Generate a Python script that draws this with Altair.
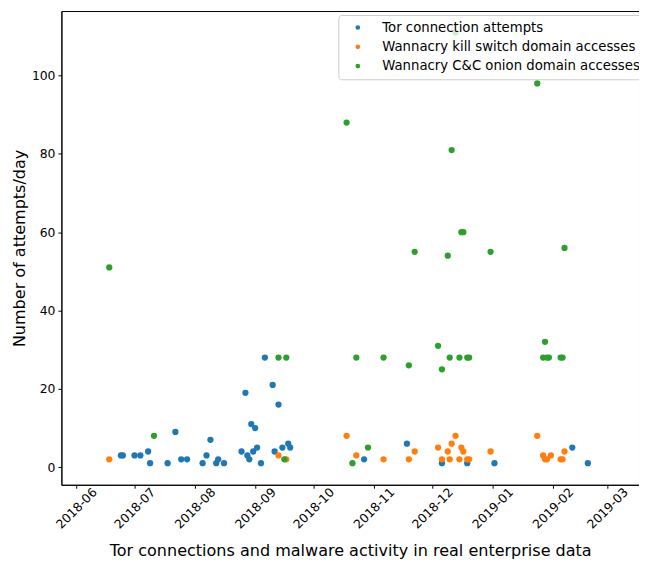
import altair as alt
import pandas as pd

series_names = ["Tor connection attempts",
                "Wannacry kill switch domain accesses",
                "Wannacry C&C onion domain accesses"]
series_colors = ["#1f77b4", "#ff7f0e", "#2ca02c"]

tor_dates = ["2018-06-24", "2018-06-25", "2018-07-01", "2018-07-04", "2018-07-08", "2018-07-09",
             "2018-07-18", "2018-07-22", "2018-07-25", "2018-07-28", "2018-08-05", "2018-08-07",
             "2018-08-09", "2018-08-12", "2018-08-13", "2018-08-16", "2018-08-25", "2018-08-27",
             "2018-08-28", "2018-08-29", "2018-08-30", "2018-08-31", "2018-09-01", "2018-09-02",
             "2018-09-04", "2018-09-06", "2018-09-10", "2018-09-11", "2018-09-13", "2018-09-15",
             "2018-09-18", "2018-09-19", "2018-10-27", "2018-11-18", "2018-12-06", "2018-12-19",
             "2019-01-02", "2019-02-11", "2019-02-19"]
tor_vals = [3, 3, 3, 3, 4, 1, 1, 9, 2, 2, 1, 3, 7, 1, 2, 1, 4, 19, 3, 2,
            11, 4, 10, 5, 1, 28, 21, 4, 16, 5, 6, 5, 2, 6, 1, 1, 1, 5, 1]

kill_dates = ["2018-06-18", "2018-09-13", "2018-09-17", "2018-10-18", "2018-10-23", "2018-11-06",
              "2018-11-19", "2018-11-22", "2018-12-04", "2018-12-06", "2018-12-09", "2018-12-10",
              "2018-12-11", "2018-12-13", "2018-12-15", "2018-12-16", "2018-12-17", "2018-12-19",
              "2018-12-20", "2018-12-31", "2019-01-24", "2019-01-27", "2019-01-28", "2019-01-29",
              "2019-01-31", "2019-02-05", "2019-02-06", "2019-02-07"]
kill_vals = [2, 3, 2, 8, 3, 2, 2, 4, 5, 2, 4, 2, 6, 8, 2, 5, 4, 2, 2, 4,
             8, 3, 2, 2, 3, 2, 2, 4]

cc_dates = ["2018-06-18", "2018-07-11", "2018-09-13", "2018-09-16", "2018-09-17", "2018-10-18",
            "2018-10-21", "2018-10-23", "2018-10-29", "2018-11-06", "2018-11-19", "2018-11-22",
            "2018-12-04", "2018-12-06", "2018-12-09", "2018-12-10", "2018-12-11", "2018-12-13",
            "2018-12-15", "2018-12-16", "2018-12-17", "2018-12-19", "2018-12-20", "2018-12-31",
            "2019-01-24", "2019-01-27", "2019-01-28", "2019-01-29", "2019-01-30", "2019-02-05",
            "2019-02-06", "2019-02-07"]
cc_vals = [51, 8, 28, 2, 28, 88, 1, 28, 5, 28, 26, 55, 31, 25, 54, 28, 81, 111, 28, 60,
           60, 28, 28, 55, 98, 28, 32, 28, 28, 28, 28, 56]

month_ticks = [(2018, 6), (2018, 7), (2018, 8), (2018, 9), (2018, 10), (2018, 11),
               (2018, 12), (2019, 1), (2019, 2), (2019, 3)]
y_ticks = [0, 20, 40, 60, 80, 100]

rows = []
for name, dates, vals in zip(series_names, [tor_dates, kill_dates, cc_dates],
                             [tor_vals, kill_vals, cc_vals]):
    for d, v in zip(dates, vals):
        rows.append({"date": d, "count": v, "series": name})
df = pd.DataFrame(rows)

FONT = "DejaVu Sans"

x_domain = [alt.DateTime(year=2018, month=5, date=24, hours=10, utc=True),
            alt.DateTime(year=2019, month=3, date=17, hours=7, utc=True)]
x_values = [alt.DateTime(year=y, month=m, date=1, utc=True) for y, m in month_ticks]

chart = alt.Chart(df).mark_circle(size=40, opacity=1).encode(
    x=alt.X("date:T",
            scale=alt.Scale(type="utc", domain=x_domain, nice=False),
            axis=alt.Axis(values=x_values, format="%Y-%m", labelAngle=-45,
                          labelAlign="center", labelBaseline="middle",
                          labelPadding=20, titlePadding=12, grid=False),
            title="Tor connections and malware activity in real enterprise data"),
    y=alt.Y("count:Q",
            scale=alt.Scale(domain=[-4.5, 116.5], nice=False, zero=False),
            axis=alt.Axis(values=y_ticks, grid=False, titlePadding=4, labelPadding=3),
            title="Number of attempts/day"),
    color=alt.Color("series:N",
                    scale=alt.Scale(domain=series_names, range=series_colors),
                    title=None,
                    legend=alt.Legend(orient="none", legendX=280, legendY=4,
                                      symbolType="circle", symbolSize=22,
                                      symbolStrokeWidth=0,
                                      labelFontSize=13.4, labelFont=FONT, labelColor="black",
                                      rowPadding=4.5, padding=6, symbolOffset=7,
                                      labelOffset=18,
                                      fillColor="rgba(255,255,255,0.8)",
                                      strokeColor="#cccccc", cornerRadius=3,
                                      labelLimit=400)),
).properties(
    width=584,
    height=479,
    autosize=alt.AutoSizeParams(type="none"),
    padding={"left": 54, "top": 0, "right": 0, "bottom": 74},
).configure_view(
    stroke="black", strokeWidth=1
).configure_axis(
    domainColor="black", tickColor="black", tickSize=3.5, labelColor="black",
    labelFont=FONT, labelFontSize=12.5, titleFont=FONT, titleFontSize=16.2,
    titleFontWeight="normal", titleColor="black", domainWidth=1, tickWidth=1
)

chart.save("out.html", embed_options={"renderer": "svg", "actions": False})
